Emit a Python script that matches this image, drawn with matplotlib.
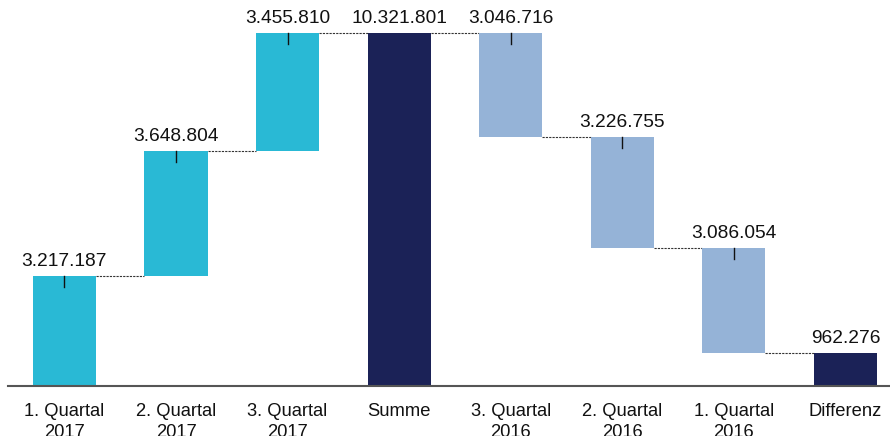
import matplotlib.pyplot as plt
import numpy as np

plt.rcParams['font.family'] = ['Liberation Sans', 'DejaVu Sans']

# Quarterly amounts: 2017 adds up, 2016 is taken off again
categories = ['1. Quartal\n2017', '2. Quartal\n2017', '3. Quartal\n2017', 'Summe',
              '3. Quartal\n2016', '2. Quartal\n2016', '1. Quartal\n2016', 'Differenz']
gains = [3217187, 3648804, 3455810]
losses = [3046716, 3226755, 3086054]

total = sum(gains)
diff = total - sum(losses)

c_up = '#29b9d5'
c_down = '#95b3d7'
c_total = '#1b2257'

# bottoms / heights for every bar
bottoms, heights, colors, labels, is_step = [], [], [], [], []
run = 0
for g in gains:
    bottoms.append(run); heights.append(g); colors.append(c_up); labels.append(g); is_step.append(True)
    run += g
bottoms.append(0); heights.append(total); colors.append(c_total); labels.append(total); is_step.append(False)
for l in losses:
    run -= l
    bottoms.append(run); heights.append(l); colors.append(c_down); labels.append(l); is_step.append(True)
bottoms.append(0); heights.append(diff); colors.append(c_total); labels.append(diff); is_step.append(False)

bottoms = np.array(bottoms)
heights = np.array(heights)
tops = bottoms + heights
x = np.arange(len(categories))
w = 0.565

fig = plt.figure(figsize=(8.9, 4.36), dpi=100)
ax = fig.add_axes([8 / 890, 50 / 436, 882 / 890, 386 / 436])
ax.bar(x, heights, bottom=bottoms, width=w, color=colors, zorder=2)

def fmt(v):
    return f'{v:,}'.replace(',', '.')

ytop = total * 386 / 353
step_px = ytop / 386  # one pixel in data units

for i in range(len(x)):
    ax.text(x[i], tops[i] + 6 * step_px, fmt(labels[i]), ha='center', va='bottom',
            fontsize=13.8, color='#111111')
    if is_step[i]:
        ax.plot([x[i], x[i]], [tops[i], tops[i] - 11 * step_px], color='#111111', lw=1, zorder=3)

# connectors between neighbouring bars
for i in range(len(x) - 1):
    if colors[i + 1] == c_down:
        lvl = tops[i + 1]
    elif colors[i] == c_down:
        lvl = bottoms[i]
    else:
        lvl = tops[i]
    ax.plot([x[i] + w / 2, x[i + 1] - w / 2], [lvl, lvl], color='#333333', lw=0.8,
            ls=(0, (2, 1)), zorder=1)

ax.set_xlim(-0.506, 7.4)
ax.set_ylim(0, ytop)
ax.set_xticks(x)
ax.set_xticklabels(categories, fontsize=13.2, color='#111111', linespacing=1.35)
ax.tick_params(axis='x', length=0, pad=12)
ax.set_yticks([])
for s in ['top', 'right', 'left']:
    ax.spines[s].set_visible(False)
ax.spines['bottom'].set_color('#555555')
ax.spines['bottom'].set_linewidth(1.5)

fig.savefig('out.png', dpi=100)
